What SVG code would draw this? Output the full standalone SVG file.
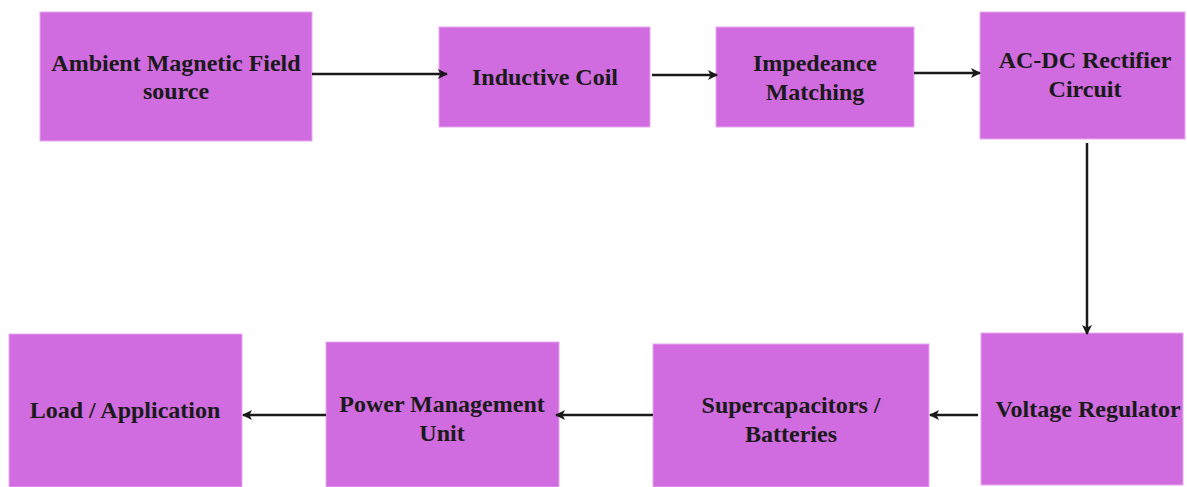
<svg xmlns="http://www.w3.org/2000/svg" width="1187" height="487" viewBox="0 0 1187 487">
<style>
.box{fill:#d06be0;stroke:#e8a8f0;stroke-width:1}
.t{font-family:"Liberation Serif","Times New Roman",serif;font-weight:bold;font-size:24px;fill:#1a1a1a;text-anchor:middle}
.c{stroke:#1a1a1a;stroke-width:2.5;fill:none;marker-end:url(#ah)}
</style>
<defs>
<marker id="ah" viewBox="0 0 10 10" refX="9" refY="5" markerWidth="4" markerHeight="4" orient="auto" markerUnits="strokeWidth">
<path d="M0,0 L10,5 L0,10 L2.5,5 Z" fill="#1a1a1a"/>
</marker>
</defs>
<rect width="1187" height="487" fill="#ffffff"/>
<g id="n1"><rect class="box" x="40" y="12" width="272" height="129"/>
<text class="t" x="176" y="71">Ambient Magnetic Field</text><text class="t" x="176" y="99">source</text></g>
<g id="n2"><rect class="box" x="439" y="27" width="211" height="100"/>
<text class="t" x="545" y="85">Inductive Coil</text></g>
<g id="n3"><rect class="box" x="716" y="27" width="198" height="100"/>
<text class="t" x="815" y="71">Impedeance</text><text class="t" x="815" y="100">Matching</text></g>
<g id="n4"><rect class="box" x="980" y="12" width="205" height="127"/>
<text class="t" x="1085" y="68">AC-DC Rectifier</text><text class="t" x="1085" y="97">Circuit</text></g>
<g id="n5"><rect class="box" x="981" y="333" width="202" height="152"/>
<text class="t" x="1088" y="417">Voltage Regulator</text></g>
<g id="n6"><rect class="box" x="653" y="344" width="276" height="143"/>
<text class="t" x="791" y="413">Supercapacitors /</text><text class="t" x="791" y="442">Batteries</text></g>
<g id="n7"><rect class="box" x="326" y="342" width="233" height="145"/>
<text class="t" x="442" y="412">Power Management</text><text class="t" x="442" y="441">Unit</text></g>
<g id="n8"><rect class="box" x="9" y="334" width="233" height="153"/>
<text class="t" x="125" y="418">Load / Application</text></g>
<g id="connectors">
<line class="c" x1="312" y1="74" x2="447" y2="74"/>
<line class="c" x1="652" y1="75" x2="717" y2="75"/>
<line class="c" x1="914" y1="73" x2="980" y2="73"/>
<line class="c" x1="1087" y1="143" x2="1087" y2="334"/>
<line class="c" x1="978" y1="415" x2="930" y2="415"/>
<line class="c" x1="653" y1="415" x2="556" y2="415"/>
<line class="c" x1="326" y1="415" x2="243" y2="415"/>
</g>
</svg>
